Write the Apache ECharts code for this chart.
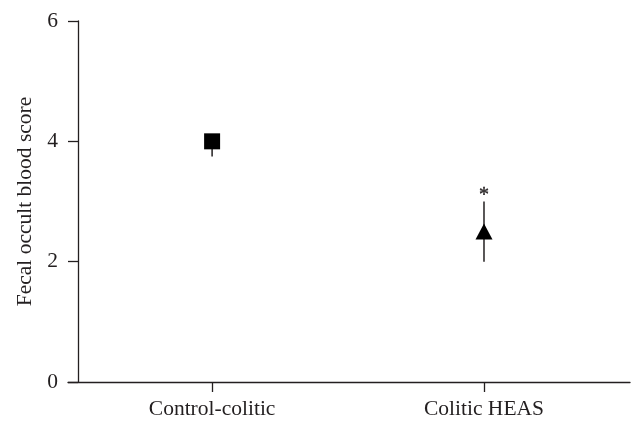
<!DOCTYPE html>
<html><head><meta charset="utf-8">
<script src="https://cdn.jsdelivr.net/npm/echarts@6/dist/echarts.min.js"></script>
<style>html,body{margin:0;padding:0;background:#fff}#c{width:632px;height:429px}</style>
</head><body><div id="c"></div>
<script>
const categories = ['Control-colitic', 'Colitic HEAS'];
const means = [4, 2.5];
const errLow = [3.75, 2];
const errHigh = [4, 3];
const markers = ['rect', 'triangle'];
const significance = ['', '*'];
const yTicks = [0, 2, 4, 6];
const yTitle = 'Fecal occult blood score';

const ink = '#231f20';
const font = 'Liberation Serif';
const fs = 21.5;
const xs = categories.map((c, i) => i + 1);

const chart = echarts.init(document.getElementById('c'), null, {renderer: 'canvas'});
chart.setOption({
  animation: false,
  grid: {left: 68, right: 2, top: 21, bottom: 47},
  xAxis: {
    type: 'value', min: 0.47, max: 2.537,
    axisLine: {show: true, lineStyle: {color: ink, width: 1.3}},
    axisTick: {show: true, length: 10, customValues: xs, lineStyle: {color: ink, width: 1.3}},
    axisLabel: {show: true, customValues: xs, margin: 16, color: ink, fontFamily: font, fontSize: fs,
      formatter: v => categories[Math.round(v) - 1] || ''},
    splitLine: {show: false}
  },
  yAxis: {
    type: 'value', min: 0, max: 6, interval: 2, offset: -10,
    name: yTitle, nameLocation: 'middle', nameGap: 42,
    nameTextStyle: {color: ink, fontFamily: font, fontSize: fs},
    axisLine: {show: true, lineStyle: {color: ink, width: 1.3}},
    axisTick: {show: true, length: 10, lineStyle: {color: ink, width: 1.3}},
    axisLabel: {margin: 20, color: ink, fontFamily: font, fontSize: fs,
      formatter: v => yTicks.includes(v) ? String(v) : ''},
    splitLine: {show: false}
  },
  series: [
    {
      type: 'custom',
      data: xs.map((x, i) => [x, errLow[i], errHigh[i], i]),
      renderItem: (params, api) => {
        const x = api.value(0);
        const lo = api.coord([x, api.value(1)]);
        const hi = api.coord([x, api.value(2)]);
        const i = api.value(3);
        const children = [{
          type: 'line', shape: {x1: lo[0], y1: lo[1], x2: hi[0], y2: hi[1]},
          style: {stroke: ink, lineWidth: 1.5}
        }];
        if (significance[i]) {
          children.push({type: 'text', x: hi[0], y: hi[1] - 16,
            style: {text: significance[i], fill: ink, font: '20px "Liberation Serif"', align: 'center', verticalAlign: 'top',
              stroke: ink, lineWidth: 0.4}});
        }
        return {type: 'group', children};
      },
      z: 1
    },
    {
      type: 'scatter',
      data: xs.map((x, i) => ({value: [x, means[i]], symbol: markers[i], symbolSize: i === 0 ? [16, 16] : [17, 16]})),
      itemStyle: {color: '#000', opacity: 1},
      z: 2
    }
  ]
});
</script>
</body></html>
